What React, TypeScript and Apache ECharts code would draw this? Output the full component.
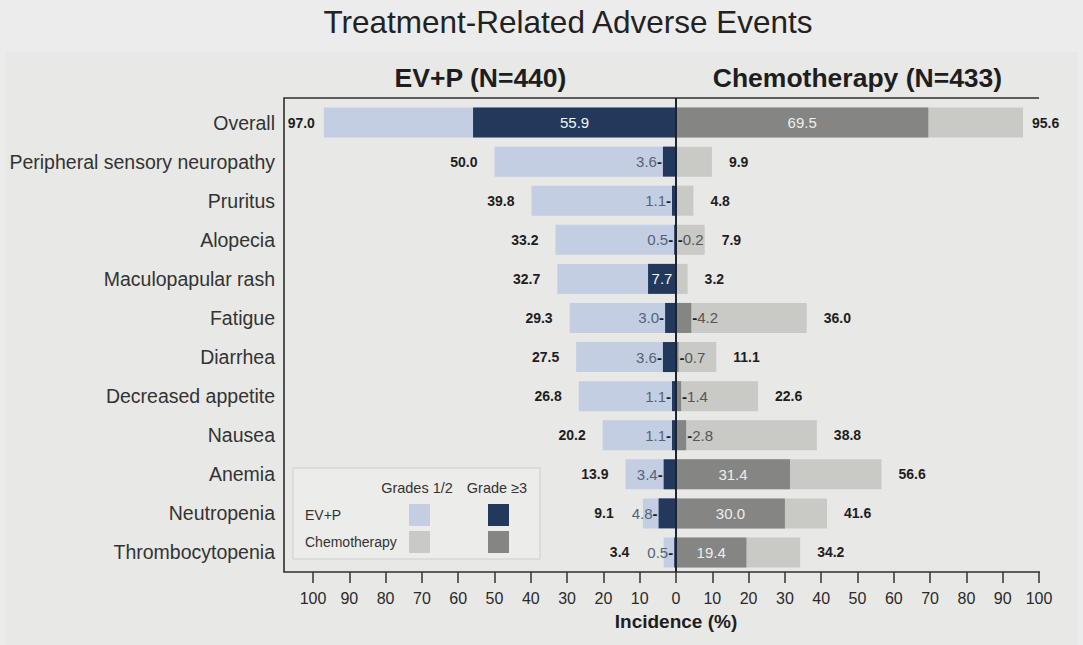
import React, { useEffect, useRef } from "react";
import * as echarts from "echarts";

// Treatment-related adverse events, incidence (%) by arm
const categories = [
  "Overall",
  "Peripheral sensory neuropathy",
  "Pruritus",
  "Alopecia",
  "Maculopapular rash",
  "Fatigue",
  "Diarrhea",
  "Decreased appetite",
  "Nausea",
  "Anemia",
  "Neutropenia",
  "Thrombocytopenia",
];
const evpAnyGrade = [97.0, 50.0, 39.8, 33.2, 32.7, 29.3, 27.5, 26.8, 20.2, 13.9, 9.1, 3.4];
const evpGrade3 = [55.9, 3.6, 1.1, 0.5, 7.7, 3.0, 3.6, 1.1, 1.1, 3.4, 4.8, 0.5];
const chemoAnyGrade = [95.6, 9.9, 4.8, 7.9, 3.2, 36.0, 11.1, 22.6, 38.8, 56.6, 41.6, 34.2];
const chemoGrade3 = [69.5, 0, 0, 0.2, 0, 4.2, 0.7, 1.4, 2.8, 31.4, 30.0, 19.4];

const chartTitle = "Treatment-Related Adverse Events";
const armTitles = ["EV+P (N=440)", "Chemotherapy (N=433)"];
const legendColumns = ["Grades 1/2", "Grade \u22653"];
const legendRows = ["EV+P", "Chemotherapy"];

const FONT = "'Liberation Sans', Arial, Helvetica, sans-serif";
const C_EVP_LIGHT = "#c3cee3";
const C_EVP_DARK = "#22395c";
const C_CHEMO_LIGHT = "#c9c9c6";
const C_CHEMO_DARK = "#858583";
const INSIDE_MIN = 7; // grade >=3 values this large carry their label inside the bar
const G3_FONT = 15;
const TOTAL_GAP = 17; // usual gap between a bar end and its total label
const LABEL_GAP = 18; // minimum gap between a total label and an outside grade >=3 label

// rough Arial advance widths, used to keep outside labels from colliding
const textWidth = (s: string, size: number) =>
  [...s].reduce((w, ch) => w + (ch === "." ? 0.278 : ch === "-" ? 0.333 : 0.556), 0) * size;

export default function App() {
  const ref = useRef<HTMLDivElement>(null);

  useEffect(() => {
    if (!ref.current) return;
    const chart = echarts.init(ref.current, undefined, { renderer: "svg" });

    const base: any = {
      animation: false,
      backgroundColor: "#ececec",
      textStyle: { fontFamily: FONT },
      grid: { left: 313, right: 44, top: 103, bottom: 73 },
      xAxis: {
        type: "value",
        min: -100,
        max: 100,
        interval: 10,
        axisLine: { show: false },
        splitLine: { show: false },
        axisTick: { show: true, length: 11, lineStyle: { color: "#333333", width: 1.5 } },
        axisLabel: {
          color: "#2a2a2a",
          fontSize: 16,
          fontFamily: FONT,
          margin: 18,
          formatter: (v: number) => String(Math.abs(v)),
        },
        name: "Incidence (%)",
        nameLocation: "middle",
        nameGap: 40,
        nameTextStyle: { fontFamily: FONT, fontSize: 19, fontWeight: "bold", color: "#1e1e1e" },
      },
      yAxis: {
        type: "category",
        inverse: true,
        data: categories,
        axisLine: { show: false },
        axisTick: { show: false },
        axisLabel: { color: "#333333", fontSize: 19.5, fontFamily: FONT, margin: 38 },
      },
    };
    chart.setOption(base);

    // pixel scale of the value axis
    const [xZero] = chart.convertToPixel({ gridIndex: 0 }, [0, 0]) as number[];
    const [xLeft100] = chart.convertToPixel({ gridIndex: 0 }, [-100, 0]) as number[];
    const [xRight100] = chart.convertToPixel({ gridIndex: 0 }, [100, 0]) as number[];
    const pxPerUnit = (xRight100 - xZero) / 100;

    const g3Text = (v: number) => v.toFixed(1);
    const isOutside = (v: number) => v > 0 && v < INSIDE_MIN;

    const totalLabel = (side: "left" | "right", total: number, g3: number, i: number) => {
      let distance = i === 0 ? 9 : TOTAL_GAP;
      if (isOutside(g3)) {
        // keep clear of the grade >=3 label that sits outside its dark bar
        const g3Reach = g3 * pxPerUnit + 1 + textWidth(g3Text(g3) + "-", G3_FONT);
        distance = Math.max(distance, g3Reach + LABEL_GAP - total * pxPerUnit);
      }
      return {
        show: true,
        position: side,
        distance,
        color: "#1e1e1e",
        fontWeight: "bold" as const,
        fontSize: 14,
        fontFamily: FONT,
        formatter: () => total.toFixed(1),
      };
    };

    const grade3Label = (side: "left" | "right", v: number) => {
      if (v <= 0) return { show: false };
      if (!isOutside(v)) {
        return {
          show: true,
          position: "inside",
          color: side === "left" ? "#f2f4f8" : "#eeeeee",
          fontSize: G3_FONT,
          fontFamily: FONT,
          formatter: () => g3Text(v),
        };
      }
      const num = g3Text(v);
      return {
        show: true,
        position: side,
        distance: 1,
        fontFamily: FONT,
        formatter: () => (side === "left" ? `{v|${num}}{d|-}` : `{d|-}{v|${num}}`),
        rich: {
          v: { color: side === "left" ? "#56627a" : "#555555", fontSize: G3_FONT, fontFamily: FONT },
          d: { color: "#1e1e1e", fontSize: G3_FONT, fontFamily: FONT, fontWeight: "bold" },
        },
      };
    };

    const series = [
      {
        name: "EV+P any grade",
        type: "bar",
        barWidth: 30,
        barGap: "-100%",
        itemStyle: { color: C_EVP_LIGHT },
        data: evpAnyGrade.map((v, i) => ({ value: -v, label: totalLabel("left", v, evpGrade3[i], i) })),
      },
      {
        name: "Chemotherapy any grade",
        type: "bar",
        barWidth: 30,
        barGap: "-100%",
        itemStyle: { color: C_CHEMO_LIGHT },
        data: chemoAnyGrade.map((v, i) => ({ value: v, label: totalLabel("right", v, chemoGrade3[i], i) })),
      },
      {
        name: "EV+P grade >=3",
        type: "bar",
        barWidth: 30,
        barGap: "-100%",
        itemStyle: { color: C_EVP_DARK },
        data: evpGrade3.map((v) => ({ value: -v, label: grade3Label("left", v) })),
      },
      {
        name: "Chemotherapy grade >=3",
        type: "bar",
        barWidth: 30,
        barGap: "-100%",
        itemStyle: { color: C_CHEMO_DARK },
        data: chemoGrade3.map((v) => ({ value: v, label: grade3Label("right", v) })),
      },
    ];

    // Frame, centre line, headings and the grade legend
    const frameLeft = 284;
    const frameTop = 98;
    const frameBottom = 572;
    const lineStyle = { stroke: "#2e2e2e", lineWidth: 1.6 };

    const legendX = 293;
    const legendY = 468;
    const swatchCols = [409, 488];
    const swatchRows = [504, 531];
    const columnCentres = [417, 497];
    const swatchColors = [
      [C_EVP_LIGHT, C_EVP_DARK],
      [C_CHEMO_LIGHT, C_CHEMO_DARK],
    ];

    const graphic: any[] = [
      {
        type: "rect",
        z: -10,
        silent: true,
        shape: { x: 5, y: 52, width: 1073, height: 600 },
        style: { fill: "#e8e8e6" },
      },
      {
        type: "text",
        silent: true,
        style: {
          text: chartTitle,
          x: 568,
          y: 22,
          align: "center",
          verticalAlign: "middle",
          fontFamily: FONT,
          fontSize: 31.5,
          fill: "#222222",
        },
      },
      {
        type: "polyline",
        silent: true,
        shape: {
          points: [
            [xRight100, frameTop],
            [frameLeft, frameTop],
            [frameLeft, frameBottom],
            [xRight100 + 1, frameBottom],
          ],
        },
        style: { ...lineStyle, fill: null },
      },
      {
        type: "line",
        silent: true,
        z: 20,
        shape: { x1: xZero, y1: frameTop, x2: xZero, y2: frameBottom },
        style: { stroke: "#1c2433", lineWidth: 2 },
      },
      {
        type: "text",
        silent: true,
        style: {
          text: armTitles[0],
          x: (xLeft100 + xZero) / 2 - 14,
          y: 78,
          align: "center",
          verticalAlign: "middle",
          fontFamily: FONT,
          fontSize: 26.5,
          fontWeight: "bold",
          fill: "#1e1e1e",
        },
      },
      {
        type: "text",
        silent: true,
        style: {
          text: armTitles[1],
          x: (xZero + xRight100) / 2,
          y: 78,
          align: "center",
          verticalAlign: "middle",
          fontFamily: FONT,
          fontSize: 26.5,
          fontWeight: "bold",
          fill: "#1e1e1e",
        },
      },
      {
        type: "rect",
        silent: true,
        z: 30,
        shape: { x: legendX, y: legendY, width: 247, height: 91 },
        style: { fill: "#ececeb", stroke: "#cdcdcd", lineWidth: 1 },
      },
      ...legendColumns.map((t, c) => ({
        type: "text",
        silent: true,
        z: 31,
        style: {
          text: t,
          x: columnCentres[c],
          y: 488,
          align: "center",
          verticalAlign: "middle",
          fontFamily: FONT,
          fontSize: 14.5,
          fill: "#333333",
        },
      })),
      ...legendRows.map((t, r) => ({
        type: "text",
        silent: true,
        z: 31,
        style: {
          text: t,
          x: 305,
          y: swatchRows[r] + 11,
          align: "left",
          verticalAlign: "middle",
          fontFamily: FONT,
          fontSize: 14,
          fill: "#333333",
        },
      })),
      ...swatchRows.flatMap((y, r) =>
        swatchCols.map((x, c) => ({
          type: "rect",
          silent: true,
          z: 31,
          shape: { x, y, width: 21, height: 22 },
          style: { fill: swatchColors[r][c] },
        }))
      ),
    ];
    chart.setOption({ series, graphic });

    return () => chart.dispose();
  }, []);

  return (
    <div
      ref={ref}
      style={{ position: "fixed", left: 0, top: 0, width: 1083, height: 645 }}
    />
  );
}
